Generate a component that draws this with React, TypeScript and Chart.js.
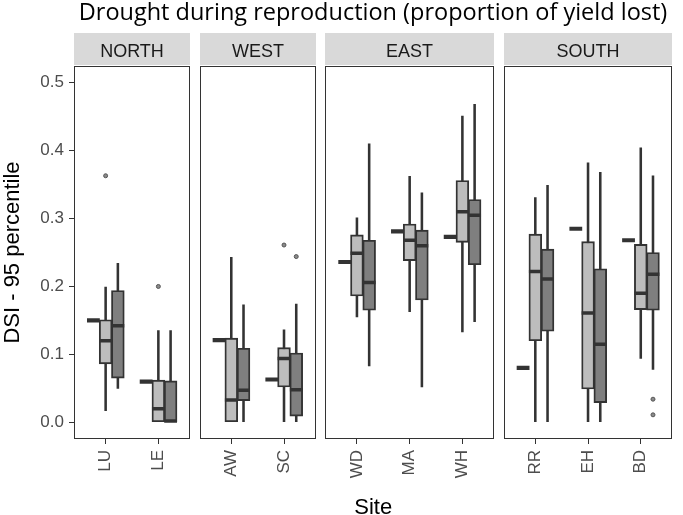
import React, { useEffect, useRef } from "react";
import { Chart, registerables } from "chart.js";

Chart.register(...registerables);

// ---------- data ----------
const chartTitle = "Drought during reproduction (proportion of yield lost)";
const xTitle = "Site";
const yTitle = "DSI - 95 percentile";
const regions = ["NORTH", "WEST", "EAST", "SOUTH"];
const sites = ["LU", "LE", "AW", "SC", "WD", "MA", "WH", "RR", "EH", "BD"];
const siteRegion = [0, 0, 1, 1, 2, 2, 2, 3, 3, 3];
const yTicks = [0, 0.1, 0.2, 0.3, 0.4, 0.5];

// first group: single value per site (drawn as a flat box)
const singleValue = [0.15, 0.06, 0.121, 0.063, 0.236, 0.281, 0.273, 0.08, 0.285, 0.268];

// second group (light grey)
const lightMin = [0.017, 0.0, 0.0, 0.0, 0.155, 0.163, 0.133, 0.001, 0.0, 0.094];
const lightQ1 = [0.086, 0.0, 0.0, 0.052, 0.186, 0.238, 0.265, 0.12, 0.049, 0.166];
const lightMedian = [0.12, 0.02, 0.033, 0.094, 0.249, 0.268, 0.31, 0.222, 0.161, 0.19];
const lightQ3 = [0.151, 0.062, 0.124, 0.11, 0.276, 0.292, 0.356, 0.277, 0.266, 0.262];
const lightMax = [0.199, 0.135, 0.243, 0.136, 0.301, 0.362, 0.451, 0.331, 0.382, 0.404];
const lightOutlierSite = ["LU", "LE", "SC"];
const lightOutlierValue = [0.363, 0.2, 0.261];

// third group (dark grey)
const darkMin = [0.05, 0.0, 0.001, 0.001, 0.083, 0.052, 0.148, 0.0, 0.0, 0.078];
const darkQ1 = [0.065, 0.0, 0.032, 0.009, 0.165, 0.18, 0.232, 0.134, 0.029, 0.165];
const darkMedian = [0.142, 0.002, 0.047, 0.048, 0.206, 0.26, 0.305, 0.211, 0.115, 0.218];
const darkQ3 = [0.194, 0.061, 0.109, 0.102, 0.268, 0.283, 0.328, 0.255, 0.226, 0.25];
const darkMax = [0.234, 0.135, 0.173, 0.174, 0.41, 0.338, 0.468, 0.349, 0.368, 0.363];
const darkOutlierSite = ["SC", "BD", "BD"];
const darkOutlierValue = [0.244, 0.034, 0.011];

// ---------- layout helpers ----------
const PANEL_GAP = 0.383; // extra category units between facets
const EXPAND = 0.6; // discrete-axis expansion inside each facet
const DODGE = 0.232; // dodge offset between groups
const pos = sites.map((_, i) => i + siteRegion[i] * PANEL_GAP);
const posOf = (s: string) => pos[sites.indexOf(s)];

const SANS = "'Liberation Sans', Arial, sans-serif";
const DARK = "#333333";

const facetPlugin = {
  id: "facets",
  afterDraw(chart: any) {
    const { ctx, chartArea, scales } = chart;
    const x = scales.x;
    ctx.save();
    regions.forEach((name, ri) => {
      const idx = sites.map((_, i) => i).filter((i) => siteRegion[i] === ri);
      const x0 = Math.round(x.getPixelForValue(pos[idx[0]] - EXPAND));
      const x1 = Math.round(x.getPixelForValue(pos[idx[idx.length - 1]] + EXPAND));
      const top = Math.round(chartArea.top);
      const bottom = Math.round(chartArea.bottom);
      ctx.fillStyle = "#d9d9d9";
      ctx.fillRect(x0, top - 33, x1 - x0, 32);
      ctx.fillStyle = "#1a1a1a";
      ctx.font = `18px ${SANS}`;
      ctx.textAlign = "center";
      ctx.textBaseline = "alphabetic";
      ctx.fillText(name, (x0 + x1) / 2, top - 9.5);
      ctx.strokeStyle = DARK;
      ctx.lineWidth = 1;
      ctx.strokeRect(x0 + 0.5, top + 0.5, x1 - x0 - 1, bottom - top - 1);
    });
    ctx.fillStyle = "#000";
    ctx.font = `23.5px 'Open Sans', sans-serif`;
    ctx.textAlign = "center";
    ctx.textBaseline = "alphabetic";
    ctx.fillText(chartTitle, 373, 20);
    ctx.restore();
  },
};

export default function App() {
  const ref = useRef<HTMLCanvasElement | null>(null);

  useEffect(() => {
    if (!ref.current) return;

    const whisker = (mins: number[], maxs: number[], off: number) => ({
      type: "bar" as const,
      data: sites.map((_, i) => ({ x: pos[i] + off, y: [mins[i], maxs[i]] })),
      backgroundColor: DARK,
      borderWidth: 0,
      barThickness: 1.9,
      grouped: false,
      order: 3,
    });
    const box = (q1: number[], q3: number[], off: number, fill: string) => ({
      type: "bar" as const,
      data: sites.map((_, i) => ({ x: pos[i] + off, y: [q1[i], q3[i]] })),
      backgroundColor: fill,
      borderColor: DARK,
      borderWidth: 1.9,
      borderSkipped: false,
      barThickness: 12.8,
      grouped: false,
      order: 2,
    });
    const median = (vals: number[], off: number, width: number) => ({
      type: "scatter" as const,
      data: sites.map((_, i) => ({ x: pos[i] + off, y: vals[i] })),
      pointStyle: "line",
      pointRadius: 6.4,
      pointHoverRadius: 6.4,
      pointBorderWidth: width,
      pointHoverBorderWidth: width,
      pointBorderColor: DARK,
      borderColor: DARK,
      order: 1,
    });
    const outliers = (ss: string[], vs: number[], off: number) => ({
      type: "scatter" as const,
      data: ss.map((s, i) => ({ x: posOf(s) + off, y: vs[i] })),
      pointStyle: "circle",
      pointRadius: 2,
      pointHoverRadius: 2,
      pointBackgroundColor: "#8a8a8a",
      pointBorderColor: "#555555",
      pointBorderWidth: 1,
      order: 0,
    });

    const chart = new Chart(ref.current, {
      type: "bar",
      data: {
        datasets: [
          whisker(lightMin, lightMax, 0),
          whisker(darkMin, darkMax, DODGE),
          box(lightQ1, lightQ3, 0, "#bdbdbd"),
          box(darkQ1, darkQ3, DODGE, "#7f7f7f"),
          median(singleValue, -DODGE, 4.2),
          median(lightMedian, 0, 3.5),
          median(darkMedian, DODGE, 3.5),
          outliers(lightOutlierSite, lightOutlierValue, 0),
          outliers(darkOutlierSite, darkOutlierValue, DODGE),
        ] as any,
      },
      options: {
        animation: false,
        responsive: false,
        devicePixelRatio: 1,
        layout: { padding: { top: 66, left: 0, right: 1, bottom: 0 } },
        plugins: { legend: { display: false }, tooltip: { enabled: false }, title: { display: false } },
        scales: {
          x: {
            type: "linear",
            min: pos[0] - EXPAND,
            max: pos[pos.length - 1] + EXPAND,
            offset: false,
            afterFit: (s: any) => {
              s.height = 76;
            },
            afterBuildTicks: (s: any) => {
              s.ticks = pos.map((v) => ({ value: v }));
            },
            grid: {
              display: true,
              drawOnChartArea: false,
              drawTicks: true,
              tickLength: 5,
              color: DARK,
              lineWidth: 1,
              offset: false,
            },
            border: { display: false },
            ticks: {
              autoSkip: false,
              minRotation: 90,
              maxRotation: 90,
              padding: 6,
              color: "#4d4d4d",
              font: { family: SANS, size: 17 },
              callback: (_v: any, i: number) => sites[i],
            },
            title: {
              display: true,
              text: xTitle,
              color: "#000",
              font: { family: SANS, size: 22, lineHeight: 0.64 },
              padding: { top: 0, bottom: 0 },
            },
          },
          y: {
            type: "linear",
            min: -0.0246,
            max: 0.5246,
            afterFit: (s: any) => {
              s.width = 74;
            },
            afterBuildTicks: (s: any) => {
              s.ticks = yTicks.map((v) => ({ value: v }));
            },
            grid: {
              display: true,
              drawOnChartArea: false,
              drawTicks: true,
              tickLength: 5,
              color: DARK,
              lineWidth: 1,
            },
            border: { display: false },
            ticks: {
              padding: 5,
              color: "#4d4d4d",
              font: { family: SANS, size: 17 },
              callback: (v: any) => Number(v).toFixed(1),
            },
            title: {
              display: true,
              text: yTitle,
              color: "#000",
              font: { family: SANS, size: 22, lineHeight: 1 },
              padding: { top: 2, bottom: 0 },
            },
          },
        },
      },
      plugins: [facetPlugin],
    });
    return () => chart.destroy();
  }, []);

  return (
    <div style={{ position: "absolute", left: 0, top: 0, width: 683, height: 515, background: "#fff" }}>
      <canvas ref={ref} width={683} height={515} style={{ width: 683, height: 515, display: "block" }} />
    </div>
  );
}
